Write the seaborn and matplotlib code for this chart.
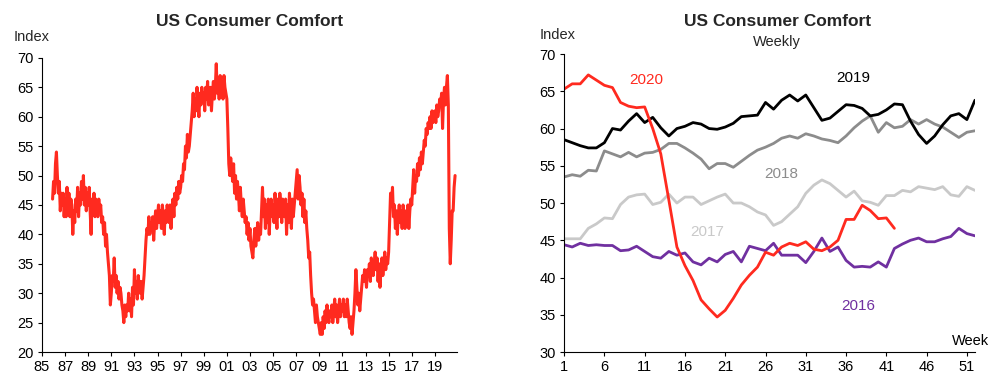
import numpy as np
import pandas as pd
import matplotlib
matplotlib.use("Agg")
import matplotlib.pyplot as plt
import seaborn as sns

# === Left panel: monthly index, Dec 1985 -> Oct 2020 (one row per year) ===
comfort_85_94 = [
    46,
    49, 47, 52, 54, 50, 47, 49, 44, 47, 45, 47, 43,
    46, 43, 48, 44, 47, 43, 46, 45, 40, 44, 42, 46,
    44, 48, 43, 47, 45, 49, 46, 50, 45, 48, 44, 47,
    45, 48, 44, 40, 46, 44, 47, 43, 46, 45, 43, 46,
    44, 45, 42, 43, 40, 42, 38, 40, 37, 35, 33, 28,
    30, 33, 32, 36, 31, 33, 30, 32, 29, 31, 30, 28,
    27, 25, 28, 26, 28, 27, 30, 27, 29, 26, 31, 28,
    34, 30, 32, 29, 33, 31, 30, 32, 29, 31, 33, 36,
    39, 41, 40, 43, 40, 42, 41, 43, 39, 42, 44, 41,
]
comfort_95_04 = [
    43, 45, 42, 44, 41, 45, 43, 40, 44, 42, 45, 43,
    42, 45, 41, 44, 46, 43, 47, 45, 48, 46, 49, 47,
    48, 50, 49, 52, 51, 55, 53, 57, 54, 55, 57, 59,
    61, 64, 60, 63, 61, 65, 62, 60, 64, 62, 65, 63,
    64, 61, 65, 63, 66, 62, 64, 65, 61, 64, 66, 63,
    65, 69, 64, 66, 63, 67, 64, 66, 63, 67, 65, 64,
    63, 58, 52, 50, 53, 51, 49, 52, 47, 50, 46, 49,
    47, 44, 48, 45, 43, 46, 44, 42, 43, 40, 42, 39,
    41, 38, 37, 36, 39, 41, 38, 40, 42, 39, 41, 40,
    44, 48, 43, 46, 41, 45, 42, 46, 40, 44, 46, 43,
]
comfort_05_14 = [
    45, 42, 47, 44, 41, 46, 43, 47, 45, 42, 46, 44,
    43, 46, 40, 45, 42, 47, 44, 41, 46, 43, 45, 47,
    49, 51, 46, 50, 48, 45, 47, 43, 46, 42, 44, 41,
    39, 36, 37, 33, 30, 28, 29, 27, 25, 28, 26, 25,
    24, 23, 25, 23, 26, 24, 27, 25, 28, 26, 25, 27,
    26, 28, 25, 27, 29, 26, 28, 25, 27, 29, 26, 28,
    27, 29, 26, 28, 26, 29, 27, 25, 24, 26, 23, 25,
    27, 30, 34, 31, 28, 30, 27, 29, 31, 33, 32, 34,
    33, 31, 34, 33, 35, 32, 36, 34, 33, 35, 37, 34,
    36, 32, 35, 31, 34, 36, 33, 35, 37, 34, 36, 35,
]
comfort_15_20 = [
    37, 42, 47, 45, 48, 43, 45, 41, 44, 40, 43, 45,
    42, 44, 41, 45, 43, 41, 44, 42, 45, 41, 44, 46,
    45, 48, 51, 47, 50, 49, 52, 50, 53, 51, 54, 52,
    54, 56, 55, 58, 57, 59, 58, 60, 58, 61, 59, 60,
    61, 59, 62, 60, 61, 63, 62, 64, 58, 63, 65, 62,
    65, 67, 62, 41, 35, 39, 44, 44, 48, 50,
]
year_ticks = list(range(1985, 2020, 2))
year_labels = [f"{y % 100:02d}" for y in year_ticks]

# === Right panel: weekly index by year ===
weeks = list(range(1, 53))
w2016 = [44.4, 44.1, 44.6, 44.3, 44.4, 44.3, 44.3, 43.6, 43.7, 44.2, 43.5, 42.8, 42.6,
         43.5, 43.0, 43.3, 42.1, 41.7, 42.6, 42.1, 43.1, 43.5, 42.1, 44.2, 43.9, 43.6,
         44.6, 43.0, 43.0, 43.0, 42.0, 43.5, 45.3, 43.5, 44.1, 42.3, 41.4, 41.5, 41.4,
         42.1, 41.4, 43.9, 44.5, 45.0, 45.3, 44.8, 44.8, 45.2, 45.5, 46.6, 45.9, 45.6]
w2017 = [45.2, 45.2, 45.2, 46.6, 47.2, 48.0, 47.9, 49.8, 50.8, 51.1, 51.2, 49.8, 50.1,
         51.2, 50.0, 50.8, 50.8, 49.8, 50.3, 50.8, 51.2, 50.0, 50.0, 49.5, 48.8, 48.4,
         47.0, 47.5, 48.5, 49.5, 51.3, 52.4, 53.1, 52.6, 51.7, 50.8, 51.6, 50.3, 50.1,
         49.7, 51.0, 51.0, 51.7, 51.5, 52.2, 52.0, 51.8, 52.2, 51.1, 50.9, 52.2, 51.7]
w2018 = [53.5, 53.8, 53.6, 54.4, 54.3, 57.0, 56.6, 56.2, 56.8, 56.2, 56.7, 56.8, 57.2,
         58.0, 58.0, 57.4, 56.7, 55.9, 54.6, 55.3, 55.3, 54.8, 55.6, 56.4, 57.1, 57.5,
         58.0, 58.7, 59.0, 58.7, 59.3, 59.0, 58.6, 58.4, 58.1, 59.0, 60.1, 61.0, 61.7,
         59.5, 60.8, 60.1, 60.3, 61.2, 60.6, 61.2, 60.6, 60.2, 59.5, 58.8, 59.5, 59.7]
w2019 = [58.5, 58.1, 57.7, 57.4, 57.4, 58.1, 60.0, 59.8, 61.0, 62.0, 60.8, 61.5, 60.1,
         59.0, 60.0, 60.3, 60.8, 60.6, 60.0, 59.9, 60.2, 60.7, 61.6, 61.7, 61.8, 63.5,
         62.6, 63.8, 64.5, 63.7, 64.5, 62.8, 61.1, 61.4, 62.3, 63.2, 63.1, 62.7, 61.7,
         61.9, 62.5, 63.3, 63.2, 61.0, 59.2, 58.0, 59.0, 60.5, 61.7, 62.0, 61.2, 63.8]
w2020 = [65.3, 66.0, 66.0, 67.2, 66.5, 65.8, 65.5, 63.5, 63.0, 62.8, 62.9, 60.0, 56.6,
         50.4, 44.1, 41.6, 39.6, 37.0, 35.8, 34.7, 35.6, 37.2, 39.0, 40.3, 41.4, 43.4,
         43.0, 44.1, 44.6, 44.3, 44.8, 43.8, 43.6, 44.1, 45.0, 47.8, 47.8, 49.7, 49.0,
         47.9, 48.0, 46.6]
week_ticks = list(range(1, 52, 5))

RED = "#ff2a1f"
PURPLE = "#7030a0"
GRAY = "#8c8c8c"
LIGHT = "#c9c9c9"

sns.set_style("white")
plt.rcParams["font.family"] = ["Liberation Sans", "DejaVu Sans"]

fig = plt.figure(figsize=(10.02, 3.86), dpi=100)
ax1 = fig.add_axes([0.0419, 0.088, 0.414, 0.762])
ax2 = fig.add_axes([0.563, 0.088, 0.41, 0.772])

# --- left: long history ---
monthly = comfort_85_94 + comfort_95_04 + comfort_05_14 + comfort_15_20
t = 1985 + 11 / 12 + np.arange(len(monthly)) / 12
hist = pd.DataFrame({"t": t, "v": monthly})
sns.lineplot(data=hist, x="t", y="v", ax=ax1, color=RED, lw=2.2)
ax1.set_xlim(1985, 2020.9)
ax1.set_ylim(20, 70)
ax1.set_xticks(year_ticks)
ax1.set_xticklabels(year_labels)
ax1.set_yticks(range(20, 71, 5))

# --- right: weekly by year ---
series = [(w2016, PURPLE), (w2017, LIGHT), (w2018, GRAY), (w2019, "black"), (w2020, RED)]
for vals, col in series:
    df = pd.DataFrame({"week": weeks[:len(vals)], "v": vals})
    sns.lineplot(data=df, x="week", y="v", ax=ax2, color=col, lw=2)
ax2.set_xlim(1, 52)
ax2.set_ylim(30, 70)
ax2.set_xticks(week_ticks)
ax2.set_yticks(range(30, 71, 5))

for ax in (ax1, ax2):
    ax.set_xlabel("")
    ax.set_ylabel("")
    sns.despine(ax=ax)
    for s in ("left", "bottom"):
        ax.spines[s].set_color("black")
        ax.spines[s].set_linewidth(0.8)
    ax.tick_params(bottom=True, left=True, direction="out", length=3, width=0.8,
                   colors="black", labelsize=10.5, pad=3)

ax2.text(11.2, 66.5, "2020", color=RED, fontsize=11, ha="center", va="center")
ax2.text(36.9, 66.8, "2019", color="black", fontsize=11, ha="center", va="center")
ax2.text(28, 53.9, "2018", color=GRAY, fontsize=11, ha="center", va="center")
ax2.text(18.7, 46.1, "2017", color=LIGHT, fontsize=11, ha="center", va="center")
ax2.text(37.5, 36.2, "2016", color=PURPLE, fontsize=11, ha="center", va="center")
ax2.text(51.4, 31.5, "Week", color="black", fontsize=10.5, ha="center", va="center")

fig.text(250 / 1002, 1 - 22 / 386, "US Consumer Comfort", ha="center", va="center",
         fontsize=12.5, fontweight="bold")
fig.text(14 / 1002, 1 - 37 / 386, "Index", ha="left", va="center", fontsize=10.5)
fig.text(778 / 1002, 1 - 22 / 386, "US Consumer Comfort", ha="center", va="center",
         fontsize=12.5, fontweight="bold")
fig.text(777 / 1002, 1 - 42 / 386, "Weekly", ha="center", va="center", fontsize=10.5)
fig.text(540 / 1002, 1 - 35 / 386, "Index", ha="left", va="center", fontsize=10.5)

fig.savefig("out.png", dpi=100)
